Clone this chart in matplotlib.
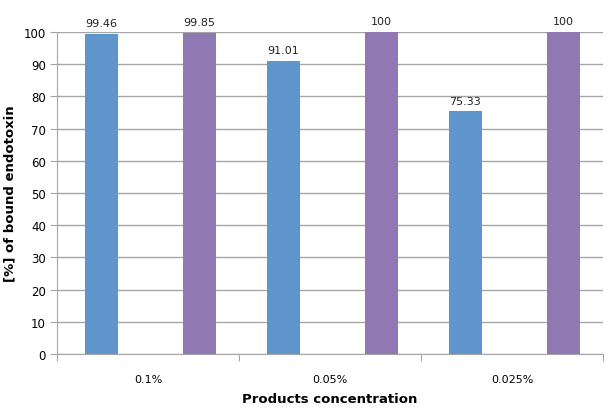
import numpy as np
import matplotlib.pyplot as plt

categories = ["0.1%", "0.05%", "0.025%"]
series_a = [99.46, 91.01, 75.33]
series_b = [99.85, 100, 100]
labels_a = ["99.46", "91.01", "75.33"]
labels_b = ["99.85", "100", "100"]

blue = "#5e96cb"
purple = "#9079b2"
grid_c = "#a6a6a6"

fig = plt.figure(figsize=(6.1, 4.1), dpi=100)
ax = fig.add_axes([0.0934, 0.134, 0.8951, 0.7854])

x = np.arange(len(categories))
w = 0.18
ba = ax.bar(x - 0.256, series_a, w, color=blue, zorder=3)
bb = ax.bar(x + 0.283, series_b, w, color=purple, zorder=3)

for bars, labs in ((ba, labels_a), (bb, labels_b)):
    for r, t in zip(bars, labs):
        ax.annotate(t, (r.get_x() + r.get_width() / 2, r.get_height()),
                    xytext=(0, 4), textcoords="offset points",
                    ha="center", va="bottom", fontsize=8, color="#222222")

ax.set_xlim(-0.5, 2.5)
ax.set_ylim(0, 100)
ax.set_yticks(np.arange(0, 101, 10))
ax.yaxis.grid(True, color=grid_c, linewidth=1, zorder=0)

# category boundaries as tick marks, labels at centres
ax.set_xticks([-0.5, 0.5, 1.5, 2.5])
ax.set_xticklabels([])
ax.set_xticks(x, minor=True)
ax.set_xticklabels(categories, minor=True)
ax.tick_params(axis="x", which="major", length=5, color=grid_c, direction="out")
ax.tick_params(axis="x", which="minor", length=0, pad=14, labelsize=8)
ax.tick_params(axis="y", length=5, color=grid_c, labelsize=8.5, pad=3)

for s in ("top", "right"):
    ax.spines[s].set_visible(False)
for s in ("left", "bottom"):
    ax.spines[s].set_color(grid_c)

ax.set_ylabel("[%] of bound endotoxin", fontsize=9.5, fontweight="bold", labelpad=5)
ax.set_xlabel("Products concentration", fontsize=9.5, fontweight="bold", labelpad=6)

fig.savefig("out.png", dpi=100)
